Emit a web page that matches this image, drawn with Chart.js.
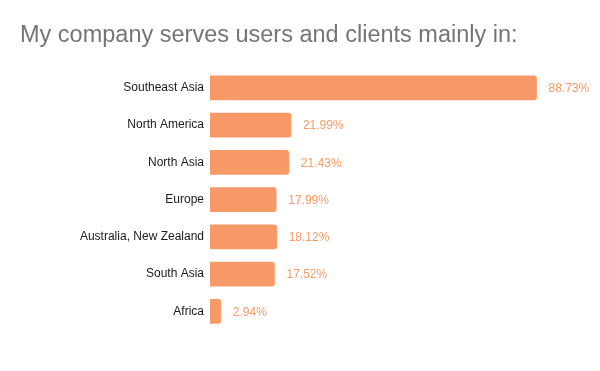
<!DOCTYPE html>
<html>
<head>
<meta charset="utf-8">
<script src="https://cdn.jsdelivr.net/npm/chart.js@4"></script>
<style>
html,body{margin:0;padding:0;background:#fff;}
#wrap{width:600px;height:371px;position:relative;}
</style>
</head>
<body>
<div id="wrap"><canvas id="c"></canvas></div>
<script>
const titleText = "My company serves users and clients mainly in:";
const categories = ["Southeast Asia","North America","North Asia","Europe","Australia, New Zealand","South Asia","Africa"];
const values = [88.73, 21.99, 21.43, 17.99, 18.12, 17.52, 2.94];

const barColor = "#F79A67";

const valueLabels = {
  id: "valueLabels",
  afterDatasetsDraw(chart) {
    const ctx = chart.ctx;
    const meta = chart.getDatasetMeta(0);
    ctx.save();
    ctx.font = "12px 'Liberation Sans', Arial, sans-serif";
    ctx.fillStyle = barColor;
    ctx.textAlign = "left";
    ctx.textBaseline = "middle";
    meta.data.forEach((bar, i) => {
      ctx.fillText(values[i].toFixed(2) + "%", bar.x + 12, bar.y + 1);
    });
    ctx.restore();
  }
};

new Chart(document.getElementById("c"), {
  type: "bar",
  data: {
    labels: categories,
    datasets: [{
      data: values,
      backgroundColor: barColor,
      borderRadius: 3,
      barThickness: 24
    }]
  },
  options: {
    indexAxis: "y",
    responsive: true,
    maintainAspectRatio: false,
    animation: false,
    layout: { padding: { left: 20, right: 22, top: 0, bottom: 41 } },
    plugins: {
      legend: { display: false },
      tooltip: { enabled: false },
      title: {
        display: true,
        text: titleText,
        align: "start",
        color: "#757575",
        font: { family: "'Liberation Sans', Arial, sans-serif", size: 23.5, weight: "normal" },
        padding: { top: 21, bottom: 20 }
      }
    },
    scales: {
      x: { display: false, min: 0, max: 100 },
      y: {
        grid: { display: false, drawTicks: false },
        border: { display: false },
        ticks: {
          color: "#1a1a1a",
          padding: 6,
          font: { family: "'Liberation Sans', Arial, sans-serif", size: 12 }
        },
        afterFit(scale) { scale.width = 190; }
      }
    }
  },
  plugins: [valueLabels]
});
</script>
</body>
</html>
